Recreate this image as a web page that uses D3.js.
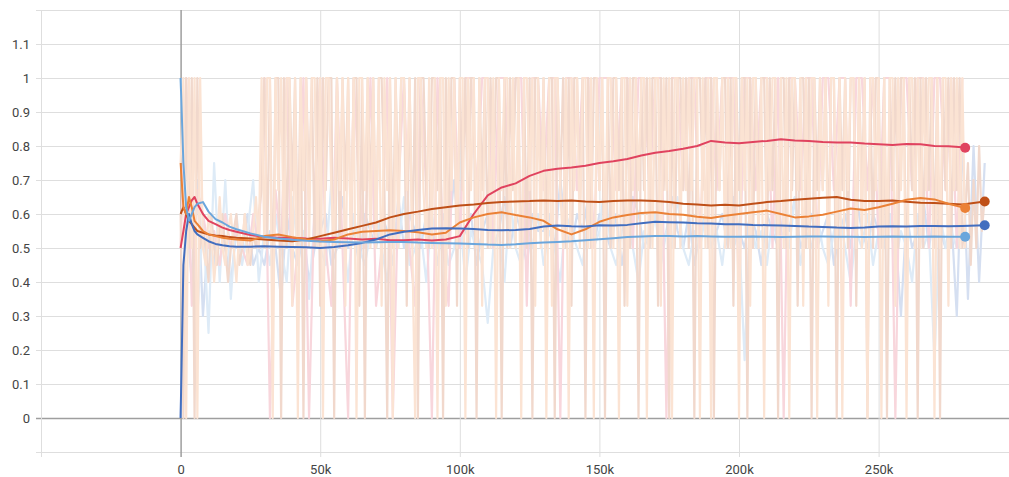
<!DOCTYPE html>
<html>
<head>
<meta charset="utf-8">
<script src="https://cdn.jsdelivr.net/npm/d3@7"></script>
<style>
  body { margin: 0; background: #fff; }
  #chart { width: 1009px; height: 477px; }
</style>
</head>
<body>
<div id="chart"></div>
<script>
// axis ticks
const xTicks = [-50000, 0, 50000, 100000, 150000, 200000, 250000];
const xTickLabels = ['', '0', '50k', '100k', '150k', '200k', '250k'];
const yTicks = [-0.1, 0, 0.1, 0.2, 0.3, 0.4, 0.5, 0.6, 0.7, 0.8, 0.9, 1, 1.1, 1.2];
const yTickLabels = ['', '0', '0.1', '0.2', '0.3', '0.4', '0.5', '0.6', '0.7', '0.8', '0.9', '1', '1.1', ''];

// steps of the smoothed curves (shared), last point of each run is in endSteps
const smoothSteps = [0, 1000, 2000, 3000, 4000, 5000, 6000, 8000, 10000, 12500, 15000, 17500, 20000,
  25000, 30000, 35000, 40000, 45000, 50000, 55000, 60000, 65000, 70000,
  75000, 80000, 85000, 90000, 95000, 100000, 105000, 110000, 115000, 120000,
  125000, 130000, 135000, 140000, 145000, 150000, 155000, 160000, 165000, 170000,
  175000, 180000, 185000, 190000, 195000, 200000, 205000, 210000, 215000, 220000,
  225000, 230000, 235000, 240000, 245000, 250000, 255000, 260000, 265000, 270000,
  275000, 280000];

const runNames = ['red', 'darkOrange', 'orange', 'darkBlue', 'lightBlue'];
const runColors = ['#e0435f', '#bf4f17', '#eb8136', '#426ebf', '#6ba6dc'];
const endSteps = [281000, 288000, 281000, 288000, 281000];
const rawEvery = [2000, 1000, 1000, 2000, 2000];
// raw lines are painted bottom to top in this order
const rawOrder = ['darkBlue', 'lightBlue', 'red', 'darkOrange', 'orange'];

const redSmooth = [0.5, 0.55, 0.6, 0.62, 0.64, 0.65, 0.63, 0.6, 0.58, 0.57, 0.56, 0.553, 0.548,
  0.538, 0.533, 0.53, 0.53, 0.528, 0.527, 0.53, 0.528, 0.525, 0.527,
  0.523, 0.523, 0.525, 0.522, 0.525, 0.535, 0.6, 0.655, 0.678, 0.69,
  0.712, 0.727, 0.733, 0.737, 0.742, 0.75, 0.755, 0.762, 0.772, 0.78,
  0.785, 0.792, 0.8, 0.815, 0.81, 0.808, 0.812, 0.815, 0.82, 0.816,
  0.815, 0.812, 0.81, 0.81, 0.807, 0.805, 0.803, 0.806, 0.805, 0.8,
  0.799, 0.796, 0.795];
const darkOrangeSmooth = [0.6, 0.62, 0.6, 0.58, 0.57, 0.56, 0.55, 0.545, 0.54, 0.537, 0.535, 0.532, 0.53,
  0.528, 0.525, 0.522, 0.52, 0.525, 0.535, 0.545, 0.555, 0.565, 0.575,
  0.59, 0.6, 0.607, 0.615, 0.62, 0.625, 0.628, 0.632, 0.635, 0.637,
  0.638, 0.64, 0.638, 0.64, 0.637, 0.635, 0.638, 0.64, 0.64, 0.638,
  0.635, 0.63, 0.628, 0.625, 0.627, 0.625, 0.63, 0.635, 0.638, 0.642,
  0.645, 0.648, 0.65, 0.642, 0.638, 0.638, 0.64, 0.636, 0.633, 0.632,
  0.63, 0.628, 0.637];
const orangeSmooth = [0.75, 0.62, 0.6, 0.65, 0.62, 0.58, 0.57, 0.55, 0.54, 0.535, 0.53, 0.527, 0.525,
  0.522, 0.535, 0.54, 0.532, 0.525, 0.52, 0.525, 0.54, 0.548, 0.55,
  0.552, 0.55, 0.546, 0.54, 0.545, 0.575, 0.59, 0.6, 0.605, 0.597,
  0.59, 0.58, 0.555, 0.54, 0.555, 0.577, 0.59, 0.597, 0.603, 0.605,
  0.6, 0.598, 0.592, 0.588, 0.595, 0.6, 0.605, 0.61, 0.6, 0.59,
  0.593, 0.598, 0.607, 0.616, 0.612, 0.62, 0.63, 0.642, 0.647, 0.643,
  0.63, 0.62, 0.618];
const darkBlueSmooth = [0, 0.45, 0.55, 0.6, 0.57, 0.55, 0.54, 0.53, 0.52, 0.512, 0.508, 0.505, 0.504,
  0.504, 0.505, 0.504, 0.503, 0.502, 0.5, 0.503, 0.508, 0.515, 0.525,
  0.54, 0.548, 0.553, 0.557, 0.558, 0.557, 0.556, 0.553, 0.552, 0.553,
  0.556, 0.563, 0.566, 0.564, 0.563, 0.567, 0.566, 0.568, 0.573, 0.577,
  0.576, 0.575, 0.573, 0.572, 0.57, 0.57, 0.568, 0.567, 0.566, 0.565,
  0.563, 0.562, 0.56, 0.559, 0.56, 0.563, 0.564, 0.563, 0.565, 0.565,
  0.564, 0.565, 0.567];
const lightBlueSmooth = [1, 0.75, 0.62, 0.58, 0.6, 0.62, 0.63, 0.635, 0.607, 0.585, 0.575, 0.563, 0.555,
  0.543, 0.533, 0.528, 0.524, 0.521, 0.519, 0.518, 0.517, 0.516, 0.517,
  0.518, 0.518, 0.516, 0.515, 0.514, 0.513, 0.512, 0.51, 0.509, 0.511,
  0.514, 0.516, 0.518, 0.52, 0.523, 0.526, 0.529, 0.532, 0.534, 0.535,
  0.535, 0.534, 0.535, 0.534, 0.533, 0.533, 0.534, 0.533, 0.532, 0.533,
  0.534, 0.534, 0.533, 0.533, 0.532, 0.533, 0.534, 0.533, 0.533, 0.534,
  0.533, 0.533, 0.533];

// raw values, one every rawEvery[i] steps starting at step 0
const redRaw = [0.5, 1, 0.33, 0.67,
  0.6, 0.5, 0.55, 0.45, 0.6, 0.5, 0.55, 0.5, 0.45, 0.6, 0.5,
  1, 0, 0.67, 0.5, 1, 0.33, 0.5, 1, 0, 0.67, 1, 0.5, 0.33, 1, 0.5, 0, 1, 0.67,
  0.5, 1, 0.33, 0.5, 1, 0, 0.67, 1, 0.5, 0.33, 1, 0.67, 0, 1, 0.5, 0.33, 1, 0.5,
  1, 1, 0.67, 1, 1, 0.5, 1, 1, 0.67, 1, 1, 0.33, 1, 1, 0.67, 1, 1, 0, 1, 1,
  0.67, 1, 1, 0.5, 1, 1, 1, 0.67, 1, 1, 0.5, 1, 1, 0.67, 1, 1, 0, 1, 1, 0.67,
  1, 1, 0.5, 1, 1, 0.67, 1, 1, 1, 0.33, 1, 1, 0.67, 1, 1, 0.5, 1, 0, 1, 1,
  0.67, 1, 1, 0.5, 1, 1, 0.67, 1, 1, 0.33, 1, 1, 0.67, 1, 0.5, 1, 1, 0, 1, 1,
  0.67, 1, 1, 0.5, 1, 1, 0.67, 1, 0.5, 1];
const darkOrangeRaw = [0.6, 0, 1, 0.5, 1, 0, 1, 0.5,
  0.55, 0.5, 0.4, 0.6, 0.5, 0.45, 0.55, 0.6, 0.5, 0.4, 0.5, 0.55, 0.6, 0.45, 0.5, 0.6, 0.5, 0.45, 0.55, 0.5, 0.6,
  0.67, 1, 0.5, 1, 0.33, 1, 1, 0, 1, 0.5, 1, 0.67, 1, 0.5, 1, 0, 1, 0.67, 1, 0.5,
  1, 0.33, 1, 0.67, 1, 1, 0, 1, 0.5, 1, 0.67, 1, 0.5, 1, 1, 0.33, 1, 0, 1, 0.67,
  1, 0.5, 1, 1, 0.67, 0, 1, 0.5, 1, 0.67, 1, 1, 0.33, 1, 0.5, 1, 0, 1, 1, 0.67,
  0.5, 1, 1, 0.67, 1, 0, 1, 0.5, 1, 1, 0.33, 1, 0.67, 1, 0.5, 1, 1, 0, 1, 0.67,
  1, 0.5, 1, 0.67, 1, 1, 0, 1, 0.5, 1, 0.67, 1, 1, 0.33, 1, 0.5, 1, 0, 1, 1,
  0.67, 1, 0.5, 1, 1, 0, 1, 0.67, 1, 0.5, 1, 0.33, 1, 1, 0.67, 1, 0, 1, 0.5, 1,
  1, 0.67, 1, 0, 1, 0.5, 1, 1, 0.67, 1, 0.33, 1, 0.5, 1, 1, 0, 1, 0.67, 1, 0.5,
  1, 1, 0.33, 1, 0.67, 1, 0, 1, 0.5, 1, 1, 0.67, 1, 0.5, 1, 0, 1, 1, 0.67, 1,
  0.5, 1, 0, 1, 0.67, 1, 1, 0.5, 1, 0.33, 1, 0.67, 1, 1, 0, 1, 0.5, 1, 0.67, 1,
  1, 0.5, 1, 0.67, 1, 0, 1, 1, 0.5, 1, 0.67, 1, 0.33, 1, 1, 0.5, 1, 0, 1, 0.67,
  1, 0.67, 1, 0.5, 1, 1, 0, 1, 0.67, 1, 0.5, 1, 1, 0.33, 1, 0.67, 1, 0, 1, 0.5,
  1, 1, 0.5, 1, 0, 1, 0.67, 1, 0.5, 1, 1, 0.33, 1, 0.67, 1, 0, 1, 0.5, 1, 0.67,
  1, 0.5, 1, 0, 1, 0.67, 1, 0.5, 1, 0.67, 1, 0.5,
  0.6, 0.75, 0.45, 0.7, 0.5, 0.8, 0.55, 0.65];
const orangeRaw = [0.75, 1, 0, 1, 0.5, 1, 0, 1,
  0.5, 0.45, 0.6, 0.55, 0.4, 0.5, 0.65, 0.5, 0.45, 0.55, 0.6, 0.5, 0.4, 0.55, 0.5, 0.6, 0.45, 0.5, 0.55, 0.65, 0.5,
  1, 0.5, 1, 1, 0, 1, 0.67, 1, 0.5, 1, 1, 0.33, 1, 0, 1, 0.67, 1, 0.5, 1, 1,
  0.5, 1, 0, 1, 1, 0.67, 0.5, 1, 0.67, 1, 0.33, 1, 0.5, 1, 0, 1, 1, 0.67, 1, 0.5,
  1, 0.5, 1, 0.33, 1, 0.67, 1, 0, 1, 0.5, 1, 1, 0.67, 1, 0.5, 0, 1, 1, 0.67, 0.5,
  1, 0.5, 1, 0, 1, 1, 0.33, 1, 0.67, 1, 0.5, 1, 1, 0, 1, 0.67, 1, 0.5, 1, 0.33,
  1, 1, 0.5, 1, 0, 1, 0.67, 1, 1, 0.5, 1, 0.5, 1, 0, 1, 1, 0.67, 1, 0.33, 1,
  0.5, 1, 0, 1, 0.33, 1, 1, 0.67, 0.5, 1, 0, 1, 0.67, 1, 0.5, 1, 1, 0.5, 1, 0,
  1, 0.67, 1, 0.5, 1, 1, 0.5, 1, 0, 1, 1, 0.33, 1, 0.67, 1, 0.67, 1, 1, 0, 1,
  0.5, 1, 1, 0.33, 1, 0.67, 1, 0, 1, 1, 0.5, 1, 0.67, 1, 0.67, 1, 1, 0, 1, 0.5,
  1, 0, 1, 1, 0.67, 1, 0.5, 1, 0.5, 1, 1, 0, 1, 0.67, 1, 0.33, 1, 1, 0.5, 1,
  0, 1, 0.67, 1, 1, 0.5, 1, 0.5, 1, 0, 1, 1, 0.67, 1, 0.33, 1, 0.5, 1, 1, 0,
  1, 0.67, 1, 0.33, 1, 1, 0.5, 1, 0, 1, 0.67, 1, 1, 0.5, 1, 0.5, 1, 0, 1, 1,
  0.67, 1, 0, 1, 0.5, 1, 1, 0.33, 1, 0.67, 1, 0, 1, 1, 0.5, 1, 0.5, 1, 0.67, 1,
  1, 0, 1, 0.5, 1, 1, 0.33, 1, 0.67, 1, 0.5, 1, 0.5];
const darkBlueRaw = [0, 0.6, 0.4, 0.7, 0.3, 0.55, 0.45, 0.6, 0.5, 0.4, 0.55, 0.5, 0.6, 0.45, 0.5,
  0.45, 0.55, 0.5, 0.35, 0.6, 0.5, 0.45, 0.55, 0.4, 0.5,
  0.55, 0.6, 0.45, 0.5, 0.65, 0.5, 0.55, 0.45, 0.6, 0.55,
  0.5, 0.6, 0.55, 0.45, 0.65, 0.5, 0.6, 0.55, 0.5, 0.6,
  0.55, 0.45, 0.6, 0.55, 0.7, 0.5, 0.55, 0.6, 0.45, 0.55,
  0.6, 0.5, 0.55, 0.65, 0.5, 0.6, 0.55, 0.45, 0.6, 0.55,
  0.55, 0.6, 0.5, 0.7, 0.55, 0.5, 0.6, 0.55, 0.65, 0.5,
  0.6, 0.55, 0.5, 0.6, 0.45, 0.55, 0.65, 0.6, 0.5, 0.55,
  0.6, 0.5, 0.55, 0.65, 0.55, 0.5, 0.6, 0.45, 0.55, 0.6,
  0.5, 0.55, 0.6, 0.5, 0.65, 0.55, 0.5, 0.6, 0.55, 0.45,
  0.6, 0.55, 0.5, 0.6, 0.55, 0.65, 0.5, 0.55, 0.6, 0.5,
  0.55, 0.6, 0.45, 0.55, 0.6, 0.5, 0.65, 0.55, 0.5, 0.6,
  0.55, 0.5, 0.6, 0.55, 0.3, 0.6, 0.5, 0.55, 0.65, 0.5,
  0.6, 0.55, 0.5, 0.6, 0.3, 0.83, 0.35, 0.8, 0.4, 0.75];
const lightBlueRaw = [1, 0.5, 0.75, 0.3, 0.6, 0.25, 0.75, 0.4, 0.7, 0.35, 0.6, 0.45, 0.55, 0.7, 0.4,
  0.55, 0.45, 0.6, 0.5, 0.4, 0.65, 0.5, 0.55, 0.35, 0.6,
  0.5, 0.45, 0.7, 0.5, 0.55, 0.4, 0.6, 0.5, 0.45, 0.55,
  0.6, 0.5, 0.4, 0.55, 0.5, 0.65, 0.45, 0.5, 0.55, 0.4,
  0.6, 0.5, 0.55, 0.45, 0.5, 0.6, 0.4, 0.55, 0.5, 0.45,
  0.28, 0.5, 0.55, 0.4, 0.65, 0.5, 0.45, 0.55, 0.5, 0.6,
  0.45, 0.55, 0.5, 0.4, 0.6, 0.55, 0.5, 0.45, 0.6, 0.5,
  0.55, 0.7, 0.5, 0.45, 0.55, 0.6, 0.5, 0.4, 0.55, 0.5,
  0.6, 0.45, 0.55, 0.5, 0.65, 0.5, 0.45, 0.55, 0.5, 0.6,
  0.5, 0.55, 0.45, 0.6, 0.5, 0.55, 0.17, 0.6, 0.5, 0.55,
  0.45, 0.6, 0.5, 0.55, 0.5, 0.65, 0.45, 0.55, 0.5, 0.6,
  0.5, 0.45, 0.55, 0.6, 0.5, 0.4, 0.55, 0.5, 0.6, 0.45,
  0.55, 0.5, 0.6, 0.45, 0.55, 0.5, 0.4, 0.6, 0.5, 0.55,
  0.17, 0.6, 0.5, 0.55, 0.5, 0.6];

const smoothSeries = [redSmooth, darkOrangeSmooth, orangeSmooth, darkBlueSmooth, lightBlueSmooth];
const rawSeries = [redRaw, darkOrangeRaw, orangeRaw, darkBlueRaw, lightBlueRaw];

class ScalarChart {
  constructor(container, config) {
    this.container = container;
    let defaults = {
      width: 1009,
      height: 477,
      left: 41,
      top: 10,
      bottom: 452,
      tickOut: 5,
      xMax: 296700,
      gridColor: '#dedede',
      zeroColor: '#9e9e9e',
      fontColor: '#444',
      fontFamily: 'Roboto, sans-serif',
      fontSize: 13,
      rawTint: 0.22,       // raw lines are the run colour mixed into white
      rawWidth: 2.2,
      smoothWidth: 2,
      dotRadius: 5
    };
    Object.assign(this, defaults, config);
    this.init();
  }

  init() {
    this.buildRuns();
    this.drawSvg();
    this.drawAxes();
    this.drawRuns();
  }

  buildRuns() {
    this.runs = runNames.map((name, i) => {
      let smooth = smoothSeries[i].map((v, j) => ({
        step: j < smoothSteps.length ? smoothSteps[j] : endSteps[i],
        value: v
      }));
      let raw = rawSeries[i].map((v, j) => ({ step: j * rawEvery[i], value: v }));
      let rawColor = d3.interpolateRgb('#ffffff', runColors[i])(this.rawTint);
      return { name, color: runColors[i], rawColor, smooth, raw };
    });
  }

  drawSvg() {
    this.svg = d3.select(this.container)
      .append('svg')
      .attr('width', this.width)
      .attr('height', this.height)
      .style('display', 'block');

    this.x = d3.scaleLinear().domain([-50000, this.xMax]).range([this.left, this.width]);
    this.y = d3.scaleLinear().domain([-0.1, 1.2]).range([this.bottom, this.top]);

    this.svg.append('defs').append('clipPath').attr('id', 'plot-clip')
      .append('rect')
      .attr('x', this.left)
      .attr('y', this.top - 1)
      .attr('width', this.width - this.left)
      .attr('height', this.bottom - this.top + 2);
  }

  drawAxes() {
    let yAxis = d3.axisLeft(this.y)
      .tickValues(yTicks)
      .tickFormat((d, i) => yTickLabels[i])
      .tickSize(-(this.width - this.left + this.tickOut))
      .tickPadding(6);

    let xAxis = d3.axisBottom(this.x)
      .tickValues(xTicks)
      .tickFormat((d, i) => xTickLabels[i])
      .tickSize(-(this.bottom + this.tickOut - this.top))
      .tickPadding(8);

    let yGroup = this.svg.append('g')
      .attr('class', 'y-axis')
      .attr('transform', `translate(${this.left - this.tickOut}, 0)`)
      .call(yAxis);

    let xGroup = this.svg.append('g')
      .attr('class', 'x-axis')
      .attr('transform', `translate(0, ${this.bottom + this.tickOut})`)
      .call(xAxis);

    [yGroup, xGroup].forEach((g) => {
      g.select('.domain').remove();
      g.selectAll('.tick line')
        .attr('stroke', (d) => d === 0 ? this.zeroColor : this.gridColor)
        .attr('stroke-width', (d) => d === 0 ? 1.5 : 1);
      g.selectAll('.tick text')
        .attr('fill', this.fontColor)
        .style('font-family', this.fontFamily)
        .style('font-size', `${this.fontSize}px`);
    });
  }

  drawRuns() {
    let line = d3.line()
      .x((d) => this.x(d.step))
      .y((d) => this.y(d.value));

    let plot = this.svg.append('g')
      .attr('class', 'plot')
      .attr('clip-path', 'url(#plot-clip)');

    let rawRuns = rawOrder.map((name) => this.runs.find((r) => r.name === name));

    plot.append('g').attr('class', 'raw-lines')
      .selectAll('path')
      .data(rawRuns)
      .join('path')
      .attr('d', (d) => line(d.raw))
      .attr('fill', 'none')
      .attr('stroke', (d) => d.rawColor)
      .attr('stroke-width', this.rawWidth)
      .attr('stroke-linejoin', 'round');

    plot.append('g').attr('class', 'smooth-lines')
      .selectAll('path')
      .data(this.runs)
      .join('path')
      .attr('d', (d) => line(d.smooth))
      .attr('fill', 'none')
      .attr('stroke', (d) => d.color)
      .attr('stroke-width', this.smoothWidth)
      .attr('stroke-linejoin', 'round');

    plot.append('g').attr('class', 'end-dots')
      .selectAll('circle')
      .data(this.runs)
      .join('circle')
      .attr('cx', (d) => this.x(d.smooth[d.smooth.length - 1].step))
      .attr('cy', (d) => this.y(d.smooth[d.smooth.length - 1].value))
      .attr('r', this.dotRadius)
      .attr('fill', (d) => d.color);
  }
}

new ScalarChart(document.getElementById('chart'), {});
</script>
</body>
</html>
